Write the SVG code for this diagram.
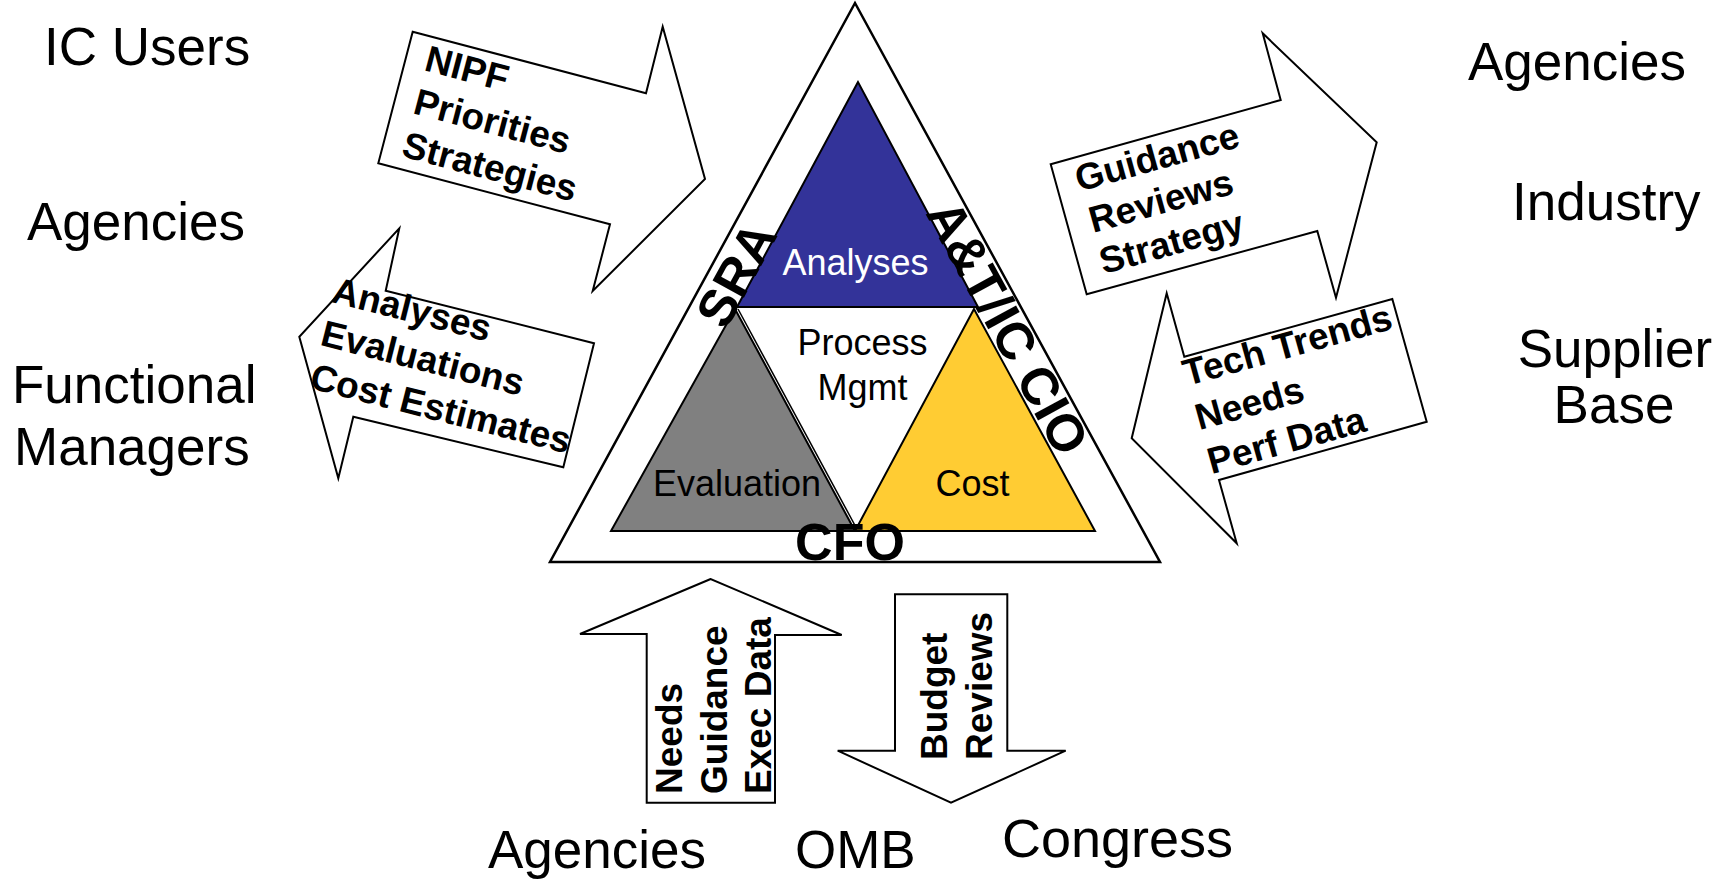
<svg xmlns="http://www.w3.org/2000/svg" width="1729" height="879" viewBox="0 0 1729 879">
<style>
.lbl{font-family:"Liberation Sans",Arial,sans-serif;font-size:53px;fill:#000}
.in{font-family:"Liberation Sans",Arial,sans-serif;font-size:36px;fill:#000}
.bd{font-family:"Liberation Sans",Arial,sans-serif;font-size:37px;font-weight:bold;fill:#000}
.big{font-family:"Liberation Sans",Arial,sans-serif;font-size:52px;font-weight:bold;fill:#000}
.arr{fill:#fff;stroke:#000;stroke-width:2;stroke-linejoin:miter}
.tri{stroke:#000;stroke-width:2;stroke-linejoin:miter}
</style>
<rect width="1729" height="879" fill="#fff"/>

<g id="outer-triangle">
<polygon points="855,3 550,562 1160,562" fill="#fff" stroke="#000" stroke-width="2.5"/>
</g>

<g id="analyses">
<polygon class="tri" points="858,82 737,307 978,307" fill="#333399"/>
<text class="in" x="855.5" y="275" text-anchor="middle" style="fill:#fff">Analyses</text>
</g>
<g id="evaluation">
<polygon class="tri" points="735,309 611,531 855,531" fill="#808080"/>
<line x1="738" y1="309" x2="858" y2="531" stroke="#000" stroke-width="1.5"/>
<text class="in" x="737" y="496" text-anchor="middle">Evaluation</text>
</g>
<g id="cost">
<polygon class="tri" points="974,309 855,531 1095,531" fill="#FFCC33"/>
<text class="in" x="972.5" y="496" text-anchor="middle">Cost</text>
</g>
<g id="process-mgmt">
<text class="in" x="862.5" y="355" text-anchor="middle">Process</text>
<text class="in" x="862.5" y="400" text-anchor="middle">Mgmt</text>
</g>
<g id="sra">
<text class="big" transform="translate(752,283) rotate(-61.4)" text-anchor="middle">SRA</text>
</g>
<g id="atic-cio">
<text class="big" transform="translate(992,336) rotate(61.4)" text-anchor="middle">A&amp;T/IC CIO</text>
</g>
<g id="cfo">
<text class="big" x="850" y="560" text-anchor="middle">CFO</text>
</g>

<g id="ic-users"><text class="lbl" x="44" y="65">IC Users</text></g>
<g id="agencies-left"><text class="lbl" x="27" y="240">Agencies</text></g>
<g id="functional-managers">
<text class="lbl" x="12" y="403">Functional</text>
<text class="lbl" x="14" y="465">Managers</text>
</g>
<g id="agencies-right"><text class="lbl" x="1468" y="80">Agencies</text></g>
<g id="industry"><text class="lbl" x="1512" y="220">Industry</text></g>
<g id="supplier-base">
<text class="lbl" x="1615" y="367" text-anchor="middle">Supplier</text>
<text class="lbl" x="1614" y="423" text-anchor="middle">Base</text>
</g>
<g id="agencies-bottom"><text class="lbl" x="488" y="868">Agencies</text></g>
<g id="omb"><text class="lbl" x="795" y="868">OMB</text></g>
<g id="congress"><text class="lbl" x="1002" y="857" style="font-size:54px">Congress</text></g>

<g id="connectors">
<g id="arrow-nipf">
<polygon class="arr" points="412.7,31.7 646,93.3 662.7,26.7 705,179 592.7,291 610,224.3 378.3,163.3"/>
<g transform="translate(423,70) rotate(14.8)">
<text class="bd" x="0" y="0">NIPF</text>
<text class="bd" x="0" y="44.5">Priorities</text>
<text class="bd" x="0" y="89">Strategies</text>
</g>
</g>
<g id="arrow-analyses">
<polygon class="arr" points="399.3,228.3 385.7,290.7 594,343.3 563.3,467.3 353.3,416.7 338.3,478.3 299.3,336.7"/>
<g transform="translate(330,301.7) rotate(14.2)">
<text class="bd" x="0" y="0">Analyses</text>
<text class="bd" x="0" y="44.5">Evaluations</text>
<text class="bd" x="0" y="89">Cost Estimates</text>
</g>
</g>
<g id="arrow-guidance">
<polygon class="arr" points="1050.7,164.3 1280.7,100 1262.7,33.3 1376.7,142.3 1336,297.7 1317.3,231 1086.7,294.3"/>
<g transform="translate(1079.3,191.7) rotate(-15.6)">
<text class="bd" x="0" y="0">Guidance</text>
<text class="bd" x="2" y="43.5">Reviews</text>
<text class="bd" x="1" y="86">Strategy</text>
</g>
</g>
<g id="arrow-tech">
<polygon class="arr" points="1166.7,293.3 1184.3,356.7 1392.3,299 1426.7,421.7 1219,480 1236.7,543.3 1131.7,438.3"/>
<g transform="translate(1187,386) rotate(-15.5)">
<text class="bd" x="0" y="0">Tech Trends</text>
<text class="bd" x="0" y="46">Needs</text>
<text class="bd" x="0" y="91.5">Perf Data</text>
</g>
</g>
<g id="arrow-up">
<polygon class="arr" points="710.7,579 580,634 646.7,634 646.7,802.7 775,802.7 775,635 841.7,635"/>
<text class="bd" transform="translate(682,794) rotate(-90)">Needs</text>
<text class="bd" transform="translate(726.5,794) rotate(-90)">Guidance</text>
<text class="bd" transform="translate(771,794) rotate(-90)">Exec Data</text>
</g>
<g id="arrow-down">
<polygon class="arr" points="895,594.3 1007.3,594.3 1007.3,750.7 1065.7,750.7 951,802.7 837.7,750.7 895,750.7"/>
<text class="bd" transform="translate(946.7,760) rotate(-90)">Budget</text>
<text class="bd" transform="translate(991.7,760) rotate(-90)">Reviews</text>
</g>
</g>
</svg>
